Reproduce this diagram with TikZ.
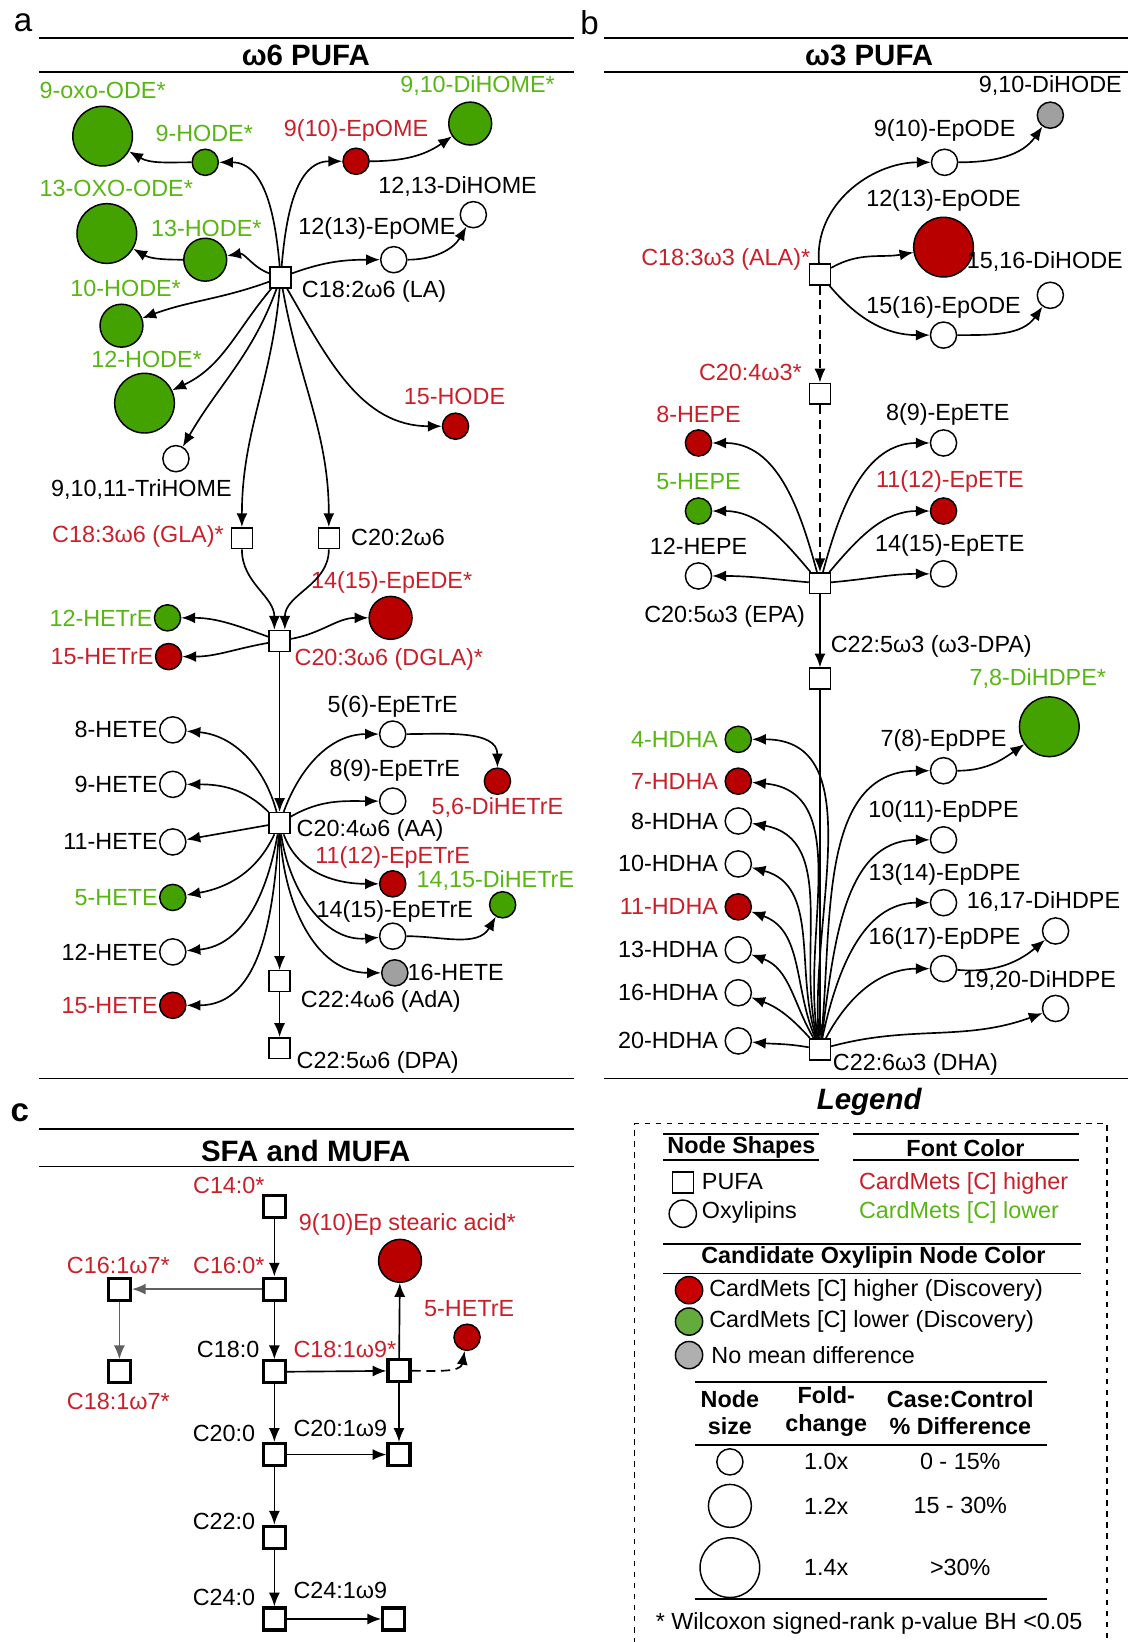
\documentclass[tikz,border=0pt]{standalone}
\usepackage{fontspec}
\setmainfont{Liberation Sans}
\usetikzlibrary{arrows.meta}

\definecolor{hifill}{RGB}{185,0,0}
\definecolor{lofill}{RGB}{68,162,0}
\definecolor{ndfill}{RGB}{160,160,160}
\definecolor{hitxt}{RGB}{200,32,40}
\definecolor{lotxt}{RGB}{88,182,20}
\definecolor{leghi}{RGB}{200,0,0}
\definecolor{leglo}{RGB}{100,170,60}
\definecolor{legnd}{RGB}{175,175,175}
\definecolor{faint}{RGB}{95,95,95}

\tikzset{
  fa/.style={rectangle,draw,fill=white,line width=0.8pt,minimum size=0.4cm,inner sep=0pt},
  sfa/.style={fa,line width=1.7pt,minimum size=0.42cm},
  ox/.style={circle,draw,fill=white,line width=0.8pt,inner sep=0pt,minimum size=0.5cm},
  oxm/.style={ox,minimum size=0.82cm},
  oxl/.style={ox,minimum size=1.14cm},
  hifl/.style={fill=hifill}, lofl/.style={fill=lofill}, ndfl/.style={fill=ndfill},
  lbl/.style={font=\fontsize{12.7}{15}\selectfont,inner sep=0pt},
  redlbl/.style={lbl,text=hitxt}, grnlbl/.style={lbl,text=lotxt},
  ttl/.style={font=\fontsize{16}{18}\selectfont\bfseries,inner sep=0pt},
  hdr/.style={font=\fontsize{12.7}{15}\selectfont\bfseries,inner sep=0pt,align=center},
  hrule/.style={line width=0.9pt},
  rx/.style={-{Latex[length=7.5pt,width=6pt]},line width=0.9pt},
  dsh/.style={dash pattern=on 5pt off 3pt},
}

\begin{document}
\begin{tikzpicture}[x=0.02cm,y=0.02cm]
\useasboundingbox (0,0) rectangle (1077,-1568);

% Panel a
\node[font=\fontsize{18}{20}\selectfont] (pa) at (22,-22) {a};
\draw[hrule] (37,-36) -- (548,-36);
\node[ttl] (ta) at (292,-53) {ω6 PUFA};
\draw[hrule] (37,-69) -- (548,-69);
\draw[hrule] (37,-1030) -- (548,-1030);

% PUFA nodes
\node[fa] (LA) at (268,-265) {};
\node[fa] (GLA) at (231,-514) {};
\node[fa] (C202) at (314,-514) {};
\node[fa] (DGLA) at (267,-612) {};
\node[fa] (AA) at (267,-786) {};
\node[fa] (AdA) at (267,-937) {};
\node[fa] (DPA6) at (267,-1001) {};

% Oxylipins
\node[oxl,lofl] (oxo9) at (98,-130) {};
\node[ox,lofl] (hode9) at (196,-155) {};
\node[ox,hifl] (epome9) at (340,-154) {};
\node[oxm,lofl] (dihome9) at (449,-118) {};
\node[oxl,lofl] (oxo13) at (102,-223) {};
\node[oxm,lofl] (hode13) at (196,-248) {};
\node[ox] (epome12) at (376,-248) {};
\node[ox] (dihome12) at (452,-205) {};
\node[oxm,lofl] (hode10) at (116,-311) {};
\node[oxl,lofl] (hode12) at (138,-385) {};
\node[ox] (trihome) at (168,-438) {};
\node[ox,hifl] (hode15) at (435,-407) {};
\node[ox,lofl] (hetre12) at (160,-590) {};
\node[ox,hifl] (hetre15) at (161,-627) {};
\node[oxm,hifl] (epede) at (373,-590) {};
\node[ox] (hete8) at (165,-697) {};
\node[ox] (hete9) at (165,-749) {};
\node[ox] (hete11) at (165,-804) {};
\node[ox,lofl] (hete5) at (165,-857) {};
\node[ox] (hete12) at (165,-909) {};
\node[ox,hifl] (hete15) at (165,-960) {};
\node[ox] (epetre5) at (375,-701) {};
\node[ox,hifl] (dihetre5) at (475,-746) {};
\node[ox] (epetre8) at (375,-765) {};
\node[ox,hifl] (epetre11) at (375,-844) {};
\node[ox,lofl] (dihetre14) at (480,-864) {};
\node[ox] (epetre14) at (375,-894) {};
\node[ox,ndfl] (hete16) at (377,-929) {};

% Labels
\node[grnlbl] (l-oxo9) at (98,-86) {9-oxo-ODE*};
\node[grnlbl] (l-hode9) at (195,-127) {9-HODE*};
\node[redlbl] (l-epome9) at (340,-125) {9(10)-EpOME};
\node[grnlbl] (l-dihome9) at (456,-82) {9,10-DiHOME*};
\node[grnlbl] (l-oxo13) at (111,-180) {13-OXO-ODE*};
\node[grnlbl] (l-hode13) at (197,-218) {13-HODE*};
\node[lbl] (l-epome12) at (360,-218) {12(13)-EpOME};
\node[lbl] (l-dihome12) at (437,-178) {12,13-DiHOME};
\node[grnlbl] (l-hode10) at (120,-275) {10-HODE*};
\node[grnlbl] (l-hode12) at (140,-343) {12-HODE*};
\node[lbl] (l-trihome) at (135,-467) {9,10,11-TriHOME};
\node[redlbl] (l-hode15) at (434,-379) {15-HODE};
\node[lbl,anchor=west] (l-LA) at (288,-278) {C18:2ω6 (LA)};
\node[redlbl,anchor=east] (l-GLA) at (214,-512) {C18:3ω6 (GLA)*};
\node[lbl,anchor=west] (l-C202) at (335,-513) {C20:2ω6};
\node[redlbl] (l-epede) at (374,-556) {14(15)-EpEDE*};
\node[grnlbl,anchor=east] (l-hetre12) at (146,-590) {12-HETrE};
\node[redlbl,anchor=east] (l-hetre15) at (147,-627) {15-HETrE};
\node[redlbl,anchor=west] (l-DGLA) at (281,-630) {C20:3ω6 (DGLA)*};
\node[lbl,anchor=east] (l-hete8) at (151,-697) {8-HETE};
\node[lbl,anchor=east] (l-hete9) at (151,-749) {9-HETE};
\node[lbl,anchor=east] (l-hete11) at (151,-804) {11-HETE};
\node[grnlbl,anchor=east] (l-hete5) at (151,-857) {5-HETE};
\node[lbl,anchor=east] (l-hete12) at (151,-909) {12-HETE};
\node[redlbl,anchor=east] (l-hete15) at (151,-960) {15-HETE};
\node[lbl] (l-epetre5) at (375,-675) {5(6)-EpETrE};
\node[lbl] (l-epetre8) at (377,-736) {8(9)-EpETrE};
\node[redlbl] (l-dihetre5) at (475,-771) {5,6-DiHETrE};
\node[lbl,anchor=west] (l-AA) at (283,-793) {C20:4ω6 (AA)};
\node[redlbl] (l-epetre11) at (375,-819) {11(12)-EpETrE};
\node[grnlbl] (l-dihetre14) at (473,-841) {14,15-DiHETrE};
\node[lbl] (l-epetre14) at (377,-870) {14(15)-EpETrE};
\node[lbl,anchor=west] (l-hete16) at (389,-929) {16-HETE};
\node[lbl,anchor=west] (l-AdA) at (287,-956) {C22:4ω6 (AdA)};
\node[lbl,anchor=west] (l-DPA6) at (283,-1015) {C22:5ω6 (DPA)};

% Edges
\draw[rx] (LA) to[out=95,in=0] (hode9);
\draw[rx] (hode9) to[out=180,in=-30] (oxo9);
\draw[rx] (LA) to[out=85,in=180] (epome9);
\draw[rx] (epome9) to[out=0,in=215] (dihome9);
\draw[rx] (LA) to[out=160,in=10] (hode13);
\draw[rx] (hode13) to[out=180,in=-30] (oxo13);
\draw[rx] (LA) to[out=20,in=180] (epome12);
\draw[rx] (epome12) to[out=0,in=240] (dihome12);
\draw[rx] (LA) to[out=200,in=20] (hode10);
\draw[rx] (LA) to[out=230,in=25] (hode12);
\draw[rx] (LA) to[out=250,in=60] (trihome);
\draw[rx] (LA) to[out=265,in=90] (GLA);
\draw[rx] (LA) to[out=280,in=90] (C202);
\draw[rx] (LA) to[out=-60,in=180] (hode15);
\draw[rx] (GLA) to[out=-90,in=90] ([xshift=-0.1cm]DGLA.north);
\draw[rx] (C202) to[out=-90,in=90] ([xshift=0.1cm]DGLA.north);
\draw[rx] (DGLA) to[out=160,in=0] (hetre12);
\draw[rx] (DGLA) to[out=190,in=0] (hetre15);
\draw[rx] (DGLA) to[out=10,in=180] (epede);
\draw[rx] (DGLA) -- (AA);
\draw[rx] (AA) to[out=105,in=-5] (hete8);
\draw[rx] (AA) to[out=135,in=0] (hete9);
\draw[rx] (AA) to[out=190,in=10] (hete11);
\draw[rx] (AA) to[out=245,in=10] (hete5);
\draw[rx] (AA) to[out=260,in=5] (hete12);
\draw[rx] (AA) to[out=266,in=0] (hete15);
\draw[rx] (AA) to[out=70,in=180] (epetre5);
\draw[rx] (AA) to[out=30,in=180] (epetre8);
\draw[rx] (AA) to[out=-70,in=180] (epetre11);
\draw[rx] (AA) to[out=-82,in=185] (epetre14);
\draw[rx] (AA) to[out=-87,in=180] (hete16);
\draw[rx] (AA) -- (AdA);
\draw[rx] (AdA) -- (DPA6);
\draw[rx] (epetre5) to[out=0,in=90] (dihetre5);
\draw[rx] (epetre14) to[out=0,in=240] (dihetre14);

% Panel b
\node[font=\fontsize{18}{20}\selectfont] (pb) at (563,-22) {b};
\draw[hrule] (577,-36) -- (1077,-36);
\node[ttl] (tb) at (830,-53) {ω3 PUFA};
\draw[hrule] (577,-69) -- (1077,-69);
\draw[hrule] (577,-1030) -- (1077,-1030);

\node[fa] (ALA) at (783,-262) {};
\node[fa] (C204) at (783,-376) {};
\node[fa] (EPA) at (783,-557) {};
\node[fa] (DPA3) at (783,-648) {};
\node[fa] (DHA) at (783,-1002) {};

\node[ox,ndfl] (dihode9) at (1003,-110) {};
\node[ox] (epode9) at (902,-155) {};
\node[oxl,hifl] (epode12) at (901,-236) {};
\node[ox] (dihode15) at (1003,-282) {};
\node[ox] (epode15) at (901,-320) {};
\node[ox,hifl] (hepe8) at (667,-423) {};
\node[ox,lofl] (hepe5) at (667,-488) {};
\node[ox] (hepe12) at (667,-550) {};
\node[ox] (epete8) at (901,-423) {};
\node[ox,hifl] (epete11) at (901,-488) {};
\node[ox] (epete14) at (901,-548) {};
\node[ox,lofl] (hdha4) at (705,-706) {};
\node[ox,hifl] (hdha7) at (705,-746) {};
\node[ox] (hdha8) at (705,-784) {};
\node[ox] (hdha10) at (705,-825) {};
\node[ox,hifl] (hdha11) at (705,-866) {};
\node[ox] (hdha13) at (705,-907) {};
\node[ox] (hdha16) at (705,-948) {};
\node[ox] (hdha20) at (705,-994) {};
\node[ox] (epdpe7) at (901,-736) {};
\node[oxl,lofl] (dihdpe7) at (1002,-694) {};
\node[ox] (epdpe10) at (901,-802) {};
\node[ox] (epdpe13) at (901,-862) {};
\node[ox] (dihdpe16) at (1008,-889) {};
\node[ox] (epdpe16) at (901,-925) {};
\node[ox] (dihdpe19) at (1008,-963) {};

\node[lbl] (l-dihode9) at (1003,-82) {9,10-DiHODE};
\node[lbl] (l-epode9) at (902,-125) {9(10)-EpODE};
\node[lbl] (l-epode12) at (901,-191) {12(13)-EpODE};
\node[redlbl,anchor=east] (l-ALA) at (774,-248) {C18:3ω3 (ALA)*};
\node[lbl,anchor=west] (l-dihode15) at (923,-250) {15,16-DiHODE};
\node[lbl] (l-epode15) at (901,-294) {15(16)-EpODE};
\node[redlbl,anchor=east] (l-C204) at (766,-356) {C20:4ω3*};
\node[redlbl] (l-hepe8) at (667,-396) {8-HEPE};
\node[lbl] (l-epete8) at (905,-396) {8(9)-EpETE};
\node[grnlbl] (l-hepe5) at (667,-460) {5-HEPE};
\node[redlbl] (l-epete11) at (907,-460) {11(12)-EpETE};
\node[lbl] (l-hepe12) at (667,-522) {12-HEPE};
\node[lbl] (l-epete14) at (907,-521) {14(15)-EpETE};
\node[lbl] (l-EPA) at (692,-589) {C20:5ω3 (EPA)};
\node[lbl,anchor=west] (l-DPA3) at (793,-617) {C22:5ω3 (ω3-DPA)};
\node[grnlbl] (l-dihdpe7) at (991,-648) {7,8-DiHDPE*};
\node[grnlbl,anchor=east] (l-hdha4) at (686,-706) {4-HDHA};
\node[redlbl,anchor=east] (l-hdha7) at (686,-746) {7-HDHA};
\node[lbl,anchor=east] (l-hdha8) at (686,-784) {8-HDHA};
\node[lbl,anchor=east] (l-hdha10) at (686,-825) {10-HDHA};
\node[redlbl,anchor=east] (l-hdha11) at (686,-866) {11-HDHA};
\node[lbl,anchor=east] (l-hdha13) at (686,-907) {13-HDHA};
\node[lbl,anchor=east] (l-hdha16) at (686,-948) {16-HDHA};
\node[lbl,anchor=east] (l-hdha20) at (686,-994) {20-HDHA};
\node[lbl] (l-epdpe7) at (901,-707) {7(8)-EpDPE};
\node[lbl] (l-epdpe10) at (901,-775) {10(11)-EpDPE};
\node[lbl] (l-epdpe13) at (902,-835) {13(14)-EpDPE};
\node[lbl,anchor=west] (l-dihdpe16) at (923,-861) {16,17-DiHDPE};
\node[lbl] (l-epdpe16) at (902,-896) {16(17)-EpDPE};
\node[lbl,anchor=west] (l-dihdpe19) at (919,-936) {19,20-DiHDPE};
\node[lbl,anchor=west] (l-DHA) at (795,-1016) {C22:6ω3 (DHA)};

\draw[rx] (ALA) to[out=95,in=180] (epode9);
\draw[rx] (epode9) to[out=0,in=235] (dihode9);
\draw[rx] (ALA) to[out=30,in=190] (epode12);
\draw[rx] (ALA) to[out=-50,in=180] (epode15);
\draw[rx] (epode15) to[out=0,in=235] (dihode15);
\draw[rx,dsh] (ALA) -- (C204);
\draw[rx,dsh] (C204) -- (EPA);
\draw[rx] (EPA) to[out=105,in=0] (hepe8);
\draw[rx] (EPA) to[out=130,in=0] (hepe5);
\draw[rx] (EPA) to[out=175,in=0] (hepe12);
\draw[rx] (EPA) to[out=75,in=180] (epete8);
\draw[rx] (EPA) to[out=50,in=180] (epete11);
\draw[rx] (EPA) to[out=5,in=180] (epete14);
\draw[rx] (EPA) -- (DPA3);
\draw[rx] (DPA3) -- (DHA);
\draw[rx] (DHA) to[out=95,in=0] (hdha4);
\draw[rx] (DHA) to[out=100,in=-5] (hdha7);
\draw[rx] (DHA) to[out=104,in=-10] (hdha8);
\draw[rx] (DHA) to[out=108,in=-15] (hdha10);
\draw[rx] (DHA) to[out=113,in=-20] (hdha11);
\draw[rx] (DHA) to[out=120,in=-20] (hdha13);
\draw[rx] (DHA) to[out=132,in=-20] (hdha16);
\draw[rx] (DHA) to[out=170,in=-5] (hdha20);
\draw[rx] (DHA) to[out=84,in=180] (epdpe7);
\draw[rx] (DHA) to[out=82,in=180] (epdpe10);
\draw[rx] (DHA) to[out=78,in=180] (epdpe13);
\draw[rx] (DHA) to[out=62,in=180] (epdpe16);
\draw[rx] (DHA) to[out=15,in=200] (dihdpe19);
\draw[rx] (epdpe7) to[out=0,in=215] (dihdpe7);
\draw[rx] (epdpe16) to[out=-5,in=220] (dihdpe16);

% Panel c
\node[font=\fontsize{18}{20}\selectfont\bfseries] (pc) at (19,-1063) {c};
\draw[hrule] (37,-1078) -- (548,-1078);
\node[ttl] (tc) at (292,-1099) {SFA and MUFA};
\draw[hrule] (37,-1114) -- (548,-1114);

\node[sfa] (C140) at (262,-1152) {};
\node[sfa] (C160) at (262,-1231) {};
\node[sfa] (C161) at (114,-1231) {};
\node[sfa] (C181w7) at (114,-1310) {};
\node[sfa] (C180) at (262,-1310) {};
\node[sfa] (C181w9) at (381,-1309) {};
\node[sfa] (C200) at (262,-1389) {};
\node[sfa] (C201) at (381,-1389) {};
\node[sfa] (C220) at (262,-1468) {};
\node[sfa] (C240) at (262,-1546) {};
\node[sfa] (C241) at (376,-1546) {};
\node[oxm,hifl] (epsa) at (382,-1204) {};
\node[ox,hifl] (hetre5) at (446,-1277) {};

\node[redlbl,anchor=east] (l-C140) at (253,-1132) {C14:0*};
\node[redlbl,anchor=east] (l-C160) at (253,-1208) {C16:0*};
\node[redlbl] (l-C161) at (113,-1208) {C16:1ω7*};
\node[redlbl] (l-C181w7) at (113,-1338) {C18:1ω7*};
\node[lbl,anchor=east] (l-C180) at (248,-1289) {C18:0};
\node[redlbl,anchor=west] (l-C181w9) at (280,-1289) {C18:1ω9*};
\node[lbl,anchor=east] (l-C200) at (244,-1369) {C20:0};
\node[lbl,anchor=west] (l-C201) at (280,-1364) {C20:1ω9};
\node[lbl,anchor=east] (l-C220) at (244,-1453) {C22:0};
\node[lbl,anchor=east] (l-C240) at (244,-1525) {C24:0};
\node[lbl,anchor=west] (l-C241) at (280,-1519) {C24:1ω9};
\node[redlbl,anchor=west] (l-epsa) at (285,-1169) {9(10)Ep stearic acid*};
\node[redlbl] (l-hetre5) at (448,-1250) {5-HETrE};

\draw[rx] (C140) -- (C160);
\draw[rx,faint] (C160) -- (C161);
\draw[rx,faint] (C161) -- (C181w7);
\draw[rx] (C160) -- (C180);
\draw[rx] (C180) -- (C181w9);
\draw[rx] (C181w9) -- (epsa);
\draw[rx,dsh] (C181w9) to[out=0,in=-100] (hetre5);
\draw[rx] (C180) -- (C200);
\draw[rx] (C181w9) -- (C201);
\draw[rx] (C200) -- (C201);
\draw[rx] (C200) -- (C220);
\draw[rx] (C220) -- (C240);
\draw[rx] (C240) -- (C241);

% Legend
\node[font=\fontsize{16}{18}\selectfont\bfseries\itshape] (lg) at (830,-1052) {Legend};
\draw[line width=0.8pt,dashed] (606,-1580) -- (606,-1073) -- (1057,-1073) -- (1057,-1580);

\draw[hrule] (633,-1083) -- (782,-1083);
\draw[hrule] (633,-1108) -- (782,-1108);
\node[hdr] (h-shape) at (708,-1096) {Node Shapes};
\draw[hrule] (815,-1083) -- (1030,-1083);
\draw[hrule] (815,-1108) -- (1030,-1108);
\node[hdr] (h-font) at (922,-1096) {Font Color};

\node[fa] (k-sq) at (652,-1129) {};
\node[lbl,anchor=west] at (670,-1128) {PUFA};
\node[ox,minimum size=0.52cm] (k-ci) at (652,-1159) {};
\node[lbl,anchor=west] at (670,-1158) {Oxylipins};
\node[redlbl,anchor=west] at (820,-1130) {CardMets [C] higher};
\node[grnlbl,anchor=west] at (820,-1158) {CardMets [C] lower};

\draw[hrule] (633,-1188) -- (1032,-1188);
\draw[hrule] (633,-1216) -- (1032,-1216);
\node[hdr] (h-col) at (834,-1201) {Candidate Oxylipin Node Color};
\node[ox,minimum size=0.52cm,fill=leghi] (k-hi) at (658,-1232) {};
\node[lbl,anchor=west] at (677,-1232) {CardMets [C] higher (Discovery)};
\node[ox,minimum size=0.52cm,fill=leglo] (k-lo) at (658,-1262) {};
\node[lbl,anchor=west] at (677,-1262) {CardMets [C] lower (Discovery)};
\node[ox,minimum size=0.52cm,fill=legnd] (k-nd) at (658,-1294) {};
\node[lbl,anchor=west] at (679,-1294) {No mean difference};

\draw[hrule] (664,-1320) -- (1000,-1320);
\node[hdr] (h-size) at (697,-1349) {Node\\size};
\node[hdr] (h-fold) at (789,-1348) {Fold-\\change};
\node[hdr] (h-diff) at (917,-1349) {Case:Control\\\% Difference};
\draw[hrule] (664,-1380) -- (1000,-1380);
\node[ox] (k-s1) at (697,-1396) {};
\node[lbl] at (789,-1396) {1.0x};
\node[lbl] at (917,-1396) {0 - 15\%};
\node[oxm] (k-s2) at (697,-1438) {};
\node[lbl] at (789,-1438) {1.2x};
\node[lbl] at (917,-1438) {15 - 30\%};
\node[oxl] (k-s3) at (697,-1497) {};
\node[lbl] at (789,-1497) {1.4x};
\node[lbl] at (917,-1497) {>30\%};
\draw[hrule] (664,-1527) -- (1000,-1527);
\node[lbl] (foot) at (830,-1550) {* Wilcoxon signed-rank p-value BH <0.05};
\end{tikzpicture}
\end{document}
